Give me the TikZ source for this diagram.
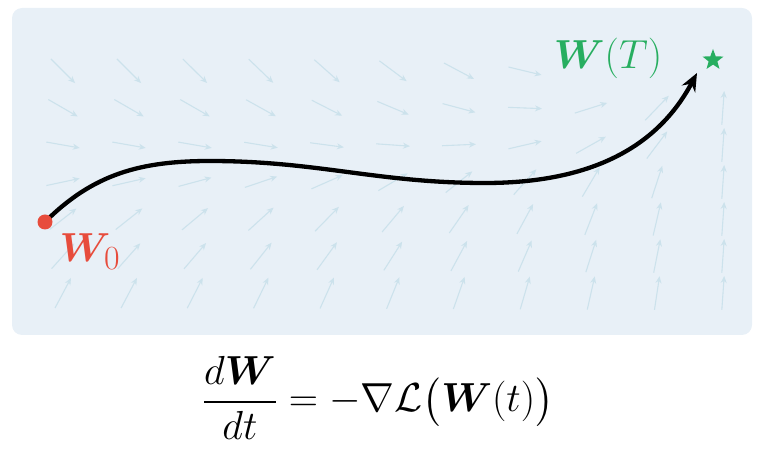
\documentclass[tikz,border=0pt]{standalone}
\usepackage{amsmath,bm,graphicx}
\usetikzlibrary{arrows.meta,shapes.geometric}
\definecolor{bgc}{HTML}{E8F0F7}
\definecolor{fld}{HTML}{CCE2EC}
\definecolor{rd}{HTML}{E74C3C}
\definecolor{gr}{HTML}{27AE60}
\tikzset{fieldarrow/.style={fld,line width=1.1pt,-{Stealth[length=7pt,width=6pt]}},
  traj/.style={line width=4.3pt,-{Stealth[length=18pt,width=15pt]}},
  lab/.style={font=\fontsize{24.88}{30}\selectfont}}
\newcommand{\bigtxt}[1]{\scalebox{1.63}{#1}}
\begin{document}
\begin{tikzpicture}[x=1pt,y=-1pt]
\useasboundingbox (0,0) rectangle (764,454);
\fill[bgc,rounded corners=10pt] (12,8) rectangle (752,335);
\foreach \r/\a in {0/-45,1/-30,2/-10,3/12,4/38,5/48,6/62}{
  \foreach \c in {0,...,10}{
    \pgfmathsetmacro{\w}{(\r<3?(\c/10)^4:(\c/10)^2)}
    \pgfmathsetmacro{\ang}{\a+(86-\a)*\w}
    \pgfmathsetmacro{\cx}{63+66*\c}
    \pgfmathsetmacro{\cy}{71+37*\r}
    \pgfmathsetmacro{\L}{17}
    \pgfmathtruncatemacro{\skip}{(\r==0)&&(\c>7)}
    \ifnum\skip=0
    \draw[fieldarrow] ({\cx-\L*cos(\ang)},{\cy+\L*sin(\ang)}) -- ({\cx+\L*cos(\ang)},{\cy-\L*sin(\ang)});
    \fi
  }}
\coordinate (s) at (45,222);
\coordinate (e) at (697,73);
\draw[traj] (s) to[out=45,in=180] (210,161) to[out=0,in=180] (485,183) to[out=0,in=-118] (e);
\fill[rd] (s) circle (7.5);
\node[star,star points=5,star point ratio=2.4,fill=gr,minimum size=22pt,inner sep=0pt] (star) at (713,60) {};
\node[lab,text=rd] (w0) at (90,252) {\bigtxt{$\bm{W}_0$}};
\node[lab,text=gr] (wt) at (608,58) {\bigtxt{$\bm{W}(T)$}};
\node[lab] (eq) at (378,398) {\bigtxt{$\displaystyle \frac{d\bm{W}}{dt}=-\nabla\mathcal{L}\big(\bm{W}(t)\big)$}};
\end{tikzpicture}
\end{document}
